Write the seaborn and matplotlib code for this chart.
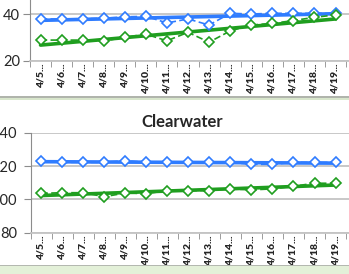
import numpy as np
import pandas as pd
import matplotlib.pyplot as plt
import seaborn as sns
from matplotlib.patches import Rectangle

dates = ['4/5', '4/6', '4/7', '4/8', '4/9', '4/10', '4/11', '4/12',
         '4/13', '4/14', '4/15', '4/16', '4/17', '4/18', '4/19']
top_blue = [37.9, 37.9, 38.0, 38.2, 38.8, 39.0, 36.2, 37.9, 35.3, 40.3, 40.0, 40.3, 40.3, 40.3, 40.3]
top_green = [28.9, 28.9, 28.9, 28.5, 30.1, 31.4, 28.6, 32.2, 28.0, 32.8, 35.3, 36.0, 37.2, 38.6, 39.6]
cw_blue = [123.1, 122.3, 122.3, 122.3, 123.4, 122.3, 122.3, 122.3, 122.3, 122.3, 121.1, 121.1, 122.3, 122.3, 122.3]
cw_green = [103.6, 104.0, 104.0, 101.6, 103.8, 103.4, 105.3, 105.3, 105.3, 106.3, 105.7, 106.3, 107.9, 109.7, 109.7]

sns.set_style('white')
plt.rcParams['font.family'] = ['Lato', 'DejaVu Sans']

BLUE = '#2f7cff'
GREEN = '#1f9e1f'
GRID = '#c4c4c4'
AXIS = '#8c8c8c'

W, H = 349, 274
fig = plt.figure(figsize=(W / 100, H / 100), dpi=100)
ax1 = fig.add_axes([30 / W, 1 - 61 / H, 1 - 30 / W, 61 / H])
ax2 = fig.add_axes([30.7 / W, 1 - 232.5 / H, 1 - 30.7 / W, 99.5 / H])


def panel(ax, blue, green, ylim, yticks, ypad):
    df = pd.DataFrame({'day': np.arange(len(dates)), 'blue': blue, 'green': green})
    for col, c in [('blue', BLUE), ('green', GREEN)]:
        sns.regplot(data=df, x='day', y=col, ax=ax, scatter=False, ci=None,
                    truncate=True, line_kws=dict(color=c, lw=2.6, zorder=2))
        sns.lineplot(data=df, x='day', y=col, ax=ax, color=c, lw=1.2,
                     linestyle=(0, (4, 2)), marker='D', ms=5, mfc='white',
                     mec=c, mew=1.2, zorder=3)
    ax.set_xlim(-0.47, 14.64)
    ax.set_ylim(*ylim)
    ax.set_yticks(yticks)
    ax.yaxis.grid(True, color=GRID, lw=1.3)
    ax.set_axisbelow(True)
    ax.set_xticks(range(len(dates)))
    ax.set_xticklabels([d + '...' for d in dates], rotation=90,
                       fontsize=7.5, fontweight='heavy')
    ax.set_xticks(np.arange(-0.5, len(dates), 1), minor=True)
    ax.tick_params(axis='x', which='major', length=0, pad=2)
    ax.tick_params(axis='x', which='minor', bottom=True, length=4,
                   color=AXIS, direction='out')
    ax.tick_params(axis='y', left=True, length=5, color=AXIS,
                   labelsize=10.5, pad=ypad)
    ax.set_xlabel('')
    ax.set_ylabel('')
    for s in ['top', 'right']:
        ax.spines[s].set_visible(False)
    ax.spines['left'].set_color(AXIS)
    ax.spines['bottom'].set_color(GRID)
    ax.spines['bottom'].set_linewidth(1.3)


panel(ax1, top_blue, top_green, (20, 45.96), [20, 40], 2)
panel(ax2, cw_blue, cw_green, (80, 140), [80, 100, 120, 140], 5)
ax2.set_title('Clearwater', fontsize=12, fontweight='bold', x=0.475, pad=4)

# chart frame edges from the spreadsheet
fig.add_artist(Rectangle((0, 1 - 98 / H), 1, 2 / H, transform=fig.transFigure,
                         color='#b0b4ac', lw=0))
fig.add_artist(Rectangle((0, 1 - 100 / H), 1, 2 / H, transform=fig.transFigure,
                         color='#d8e6cc', lw=0))
fig.add_artist(Rectangle((0, 0), 1, 8 / H, transform=fig.transFigure,
                         color='#e3f0d8', lw=0))
fig.add_artist(Rectangle((0, 8 / H), 1, 1 / H, transform=fig.transFigure,
                         color='#b4b8b0', lw=0))

fig.savefig('out.png', dpi=100)
